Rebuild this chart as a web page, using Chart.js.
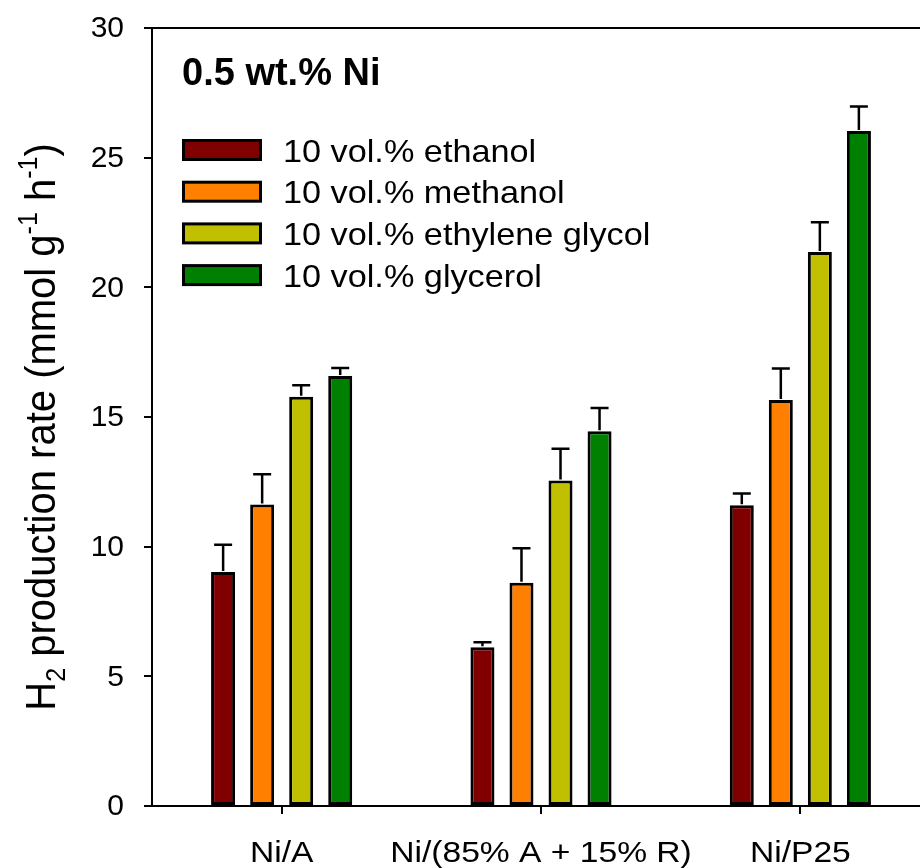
<!DOCTYPE html>
<html>
<head>
<meta charset="utf-8">
<script src="https://cdn.jsdelivr.net/npm/chart.js@4/dist/chart.umd.min.js"></script>
<style>
  html, body { margin: 0; padding: 0; background: #fff; overflow: hidden; }
  #wrap { width: 940px; height: 868px; }
</style>
</head>
<body>
<div id="wrap"><canvas id="h2Chart"></canvas></div>
<script>
// catalysts on the x axis
const catalysts = ['Ni/A', 'Ni/(85% A + 15% R)', 'Ni/P25'];

// H2 production rate, mmol g-1 h-1
const ethanol        = [9.02, 6.12, 11.60];
const methanol       = [11.63, 8.61, 15.66];
const ethyleneGlycol = [15.78, 12.55, 21.36];
const glycerol       = [16.58, 14.45, 26.03];

// upper error bars (same units)
const ethanolErr        = [1.05, 0.19, 0.45];
const methanolErr       = [1.16, 1.33, 1.21];
const ethyleneGlycolErr = [0.44, 1.23, 1.15];
const glycerolErr       = [0.31, 0.90, 0.94];

const seriesNames = ['10 vol.% ethanol', '10 vol.% methanol', '10 vol.% ethylene glycol', '10 vol.% glycerol'];
const yTicks = [0, 5, 10, 15, 20, 25, 30];

const fontFam = '"Liberation Sans", Arial, sans-serif';

function makeSet(label, data, err, color) {
    return {
        label: label,
        data: data,
        errors: err,
        backgroundColor: color,
        borderColor: '#000',
        borderWidth: 3,
        borderSkipped: false,
        categoryPercentage: 0.602,
        barPercentage: 0.615
    };
}

// text with a horizontal stretch factor
function stretchText(ctx, text, x, y, size, sx, weight, align, baseline) {
    ctx.save();
    ctx.font = (weight || '') + ' ' + size + 'px ' + fontFam;
    ctx.textBaseline = baseline || 'alphabetic';
    ctx.textAlign = align || 'left';
    ctx.translate(x, y);
    ctx.scale(sx, 1);
    ctx.fillText(text, 0, 0);
    ctx.restore();
}

// error bars (upper only), frame, tick labels, panel title, legend and y title
const extras = {
    id: 'extras',
    afterDatasetsDraw(chart) {
        const ctx = chart.ctx;
        const y = chart.scales.y;
        ctx.save();
        ctx.strokeStyle = '#000';
        ctx.lineWidth = 2.5;
        chart.data.datasets.forEach((ds, i) => {
            chart.getDatasetMeta(i).data.forEach((bar, j) => {
                const top = y.getPixelForValue(ds.data[j]);
                const cap = y.getPixelForValue(ds.data[j] + ds.errors[j]);
                ctx.beginPath();
                ctx.moveTo(bar.x, top - 1);
                ctx.lineTo(bar.x, cap);
                ctx.moveTo(bar.x - 9, cap);
                ctx.lineTo(bar.x + 9, cap);
                ctx.stroke();
            });
        });
        ctx.restore();
    },
    afterDraw(chart) {
        const ctx = chart.ctx;
        const a = chart.chartArea;
        const xs = chart.scales.x;
        const ys = chart.scales.y;
        ctx.save();
        // box: top and right edge
        ctx.strokeStyle = '#000';
        ctx.lineWidth = 2;
        ctx.beginPath();
        ctx.moveTo(a.left, a.top);
        ctx.lineTo(a.right, a.top);
        ctx.lineTo(a.right, a.bottom);
        ctx.stroke();
        ctx.fillStyle = '#000';

        // y tick labels
        yTicks.forEach(v => {
            stretchText(ctx, String(v), 124, ys.getPixelForValue(v) + 1, 30, 1, '', 'right', 'middle');
        });

        // category labels
        chart.data.labels.forEach((lab, i) => {
            stretchText(ctx, lab, xs.getPixelForTick(i), 862, 30, 1.12, '', 'center');
        });

        // panel title
        stretchText(ctx, '0.5 wt.% Ni', 182, 85, 38, 1, 'bold', 'left');

        // legend
        ctx.lineWidth = 3;
        chart.data.datasets.forEach((ds, i) => {
            const cy = 150 + i * 41.7;
            ctx.fillStyle = ds.backgroundColor;
            ctx.fillRect(183.5, cy - 9.5, 77, 19);
            ctx.strokeRect(183.5, cy - 9.5, 77, 19);
            ctx.fillStyle = '#000';
            stretchText(ctx, ds.label, 283, cy + 11.5, 32, 1.07, '', 'left');
        });

        // y axis title with sub/superscripts
        const parts = [
            ['H', 40, 0], ['2', 25, 9], [' production rate (mmol g', 40, 0],
            ['-1', 25, -17], [' h', 40, 0], ['-1', 25, -17], [')', 40, 0]
        ];
        let total = 0;
        parts.forEach(p => { ctx.font = p[1] + 'px ' + fontFam; total += ctx.measureText(p[0]).width; });
        ctx.translate(55, 427);
        ctx.rotate(-Math.PI / 2);
        ctx.scale(1, 1.08);
        let x = -total / 2;
        ctx.textBaseline = 'alphabetic';
        ctx.textAlign = 'left';
        parts.forEach(p => {
            ctx.font = p[1] + 'px ' + fontFam;
            ctx.fillText(p[0], x, p[2]);
            x += ctx.measureText(p[0]).width;
        });
        ctx.restore();
    }
};

const ctx = document.getElementById('h2Chart').getContext('2d');
new Chart(ctx, {
    type: 'bar',
    data: {
        labels: catalysts,
        datasets: [
            makeSet(seriesNames[0], ethanol, ethanolErr, '#800000'),
            makeSet(seriesNames[1], methanol, methanolErr, '#FF8000'),
            makeSet(seriesNames[2], ethyleneGlycol, ethyleneGlycolErr, '#C0C000'),
            makeSet(seriesNames[3], glycerol, glycerolErr, '#008000')
        ]
    },
    options: {
        responsive: true,
        maintainAspectRatio: false,
        animation: false,
        layout: { padding: { top: 28, right: 10, left: 0, bottom: 0 } },
        plugins: {
            legend: { display: false },
            tooltip: { enabled: false }
        },
        scales: {
            x: {
                grid: { display: true, offset: false, drawOnChartArea: false, drawTicks: true, tickLength: 8, color: '#000', lineWidth: 2 },
                border: { display: true, color: '#000', width: 2 },
                ticks: { display: false },
                afterFit(scale) { scale.height = 62; }
            },
            y: {
                min: 0,
                max: 30,
                afterBuildTicks(scale) { scale.ticks = yTicks.map(v => ({ value: v })); },
                grid: { display: true, drawOnChartArea: false, drawTicks: true, tickLength: 8, color: '#000', lineWidth: 2 },
                border: { display: true, color: '#000', width: 2 },
                ticks: { display: false },
                afterFit(scale) { scale.width = 152; }
            }
        }
    },
    plugins: [extras]
});
</script>
</body>
</html>
